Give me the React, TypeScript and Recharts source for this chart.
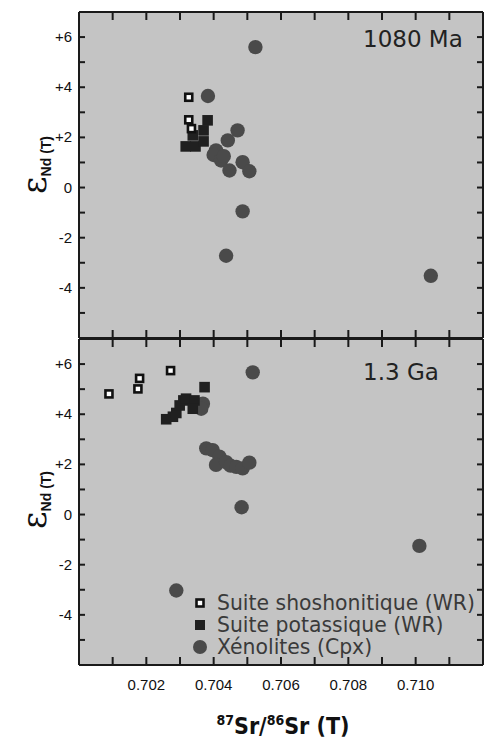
import { ScatterChart, Scatter, XAxis, YAxis } from 'recharts'

// x = 87Sr/86Sr (T), y = εNd (T)
const xTicks = [0.7, 0.701, 0.702, 0.703, 0.704, 0.705, 0.706, 0.707, 0.708, 0.709, 0.71, 0.711, 0.712]
const xLabelTicks = [0.702, 0.704, 0.706, 0.708, 0.71]
const yTicks = [-6, -5, -4, -3, -2, -1, 0, 1, 2, 3, 4, 5, 6, 7]
const yLabelTicks = [-4, -2, 0, 2, 4, 6]

// 1080 Ma
const shosho1080 = [
    { sr: 0.70326, nd: 3.6 },
    { sr: 0.70326, nd: 2.7 },
    { sr: 0.70334, nd: 2.35 },
]
const potass1080 = [
    { sr: 0.70382, nd: 2.68 },
    { sr: 0.70317, nd: 1.64 },
    { sr: 0.70346, nd: 1.64 },
    { sr: 0.7037, nd: 1.84 },
    { sr: 0.7037, nd: 2.28 },
    { sr: 0.70338, nd: 2.08 },
]
const xeno1080 = [
    { sr: 0.70524, nd: 5.6 },
    { sr: 0.70383, nd: 3.65 },
    { sr: 0.70471, nd: 2.28 },
    { sr: 0.70442, nd: 1.88 },
    { sr: 0.70407, nd: 1.48 },
    { sr: 0.704, nd: 1.3 },
    { sr: 0.70422, nd: 1.08 },
    { sr: 0.7043, nd: 1.25 },
    { sr: 0.70447, nd: 0.68 },
    { sr: 0.70486, nd: 1.01 },
    { sr: 0.70506, nd: 0.65 },
    { sr: 0.70486, nd: -0.95 },
    { sr: 0.70437, nd: -2.72 },
    { sr: 0.71045, nd: -3.52 },
]

// 1.3 Ga
const shosho13 = [
    { sr: 0.70089, nd: 4.81 },
    { sr: 0.70175, nd: 5.01 },
    { sr: 0.7018, nd: 5.43 },
    { sr: 0.70272, nd: 5.74 },
]
const potass13 = [
    { sr: 0.70373, nd: 5.08 },
    { sr: 0.70259, nd: 3.8 },
    { sr: 0.70279, nd: 3.9 },
    { sr: 0.70289, nd: 4.05 },
    { sr: 0.70299, nd: 4.35 },
    { sr: 0.7031, nd: 4.55 },
    { sr: 0.70318, nd: 4.62 },
    { sr: 0.70343, nd: 4.55 },
    { sr: 0.70338, nd: 4.22 },
]
const xeno13 = [
    { sr: 0.70516, nd: 5.67 },
    { sr: 0.70368, nd: 4.42 },
    { sr: 0.70363, nd: 4.22 },
    { sr: 0.70378, nd: 2.64 },
    { sr: 0.70397, nd: 2.57 },
    { sr: 0.70417, nd: 2.31 },
    { sr: 0.70407, nd: 1.98 },
    { sr: 0.70437, nd: 2.09 },
    { sr: 0.7045, nd: 1.95 },
    { sr: 0.70467, nd: 1.9 },
    { sr: 0.70486, nd: 1.84 },
    { sr: 0.70506, nd: 2.07 },
    { sr: 0.70483, nd: 0.29 },
    { sr: 0.71011, nd: -1.25 },
    { sr: 0.70289, nd: -3.03 },
]

const INK = '#1a1a1a'
const BG = '#c4c4c4'
const TICK_FONT = "'Liberation Sans', Arial, sans-serif"
const GEO_FONT = "'DejaVu Sans', sans-serif"
const X_TICK = 8
const Y_TICK = 6

// tick lines come from recharts (negative tickSize = pointing inward), this only writes the labels
function tickLabel(side: 'left' | 'bottom' | 'none') {
    return (props: any) => {
        const x = Number(props.x)
        const y = Number(props.y)
        const v = Number(props.payload.value)
        if (side === 'left' && yLabelTicks.includes(v)) {
            return (
                <text x={x - 7} y={y + 5} textAnchor="end" fontSize={15} fontFamily={TICK_FONT} fill="#111">
                    {v > 0 ? `+${v}` : `${v}`}
                </text>
            )
        }
        if (side === 'bottom' && xLabelTicks.some((t) => Math.abs(t - v) < 1e-9)) {
            return (
                <text x={x} y={y + 25} textAnchor="middle" fontSize={15} fontFamily={TICK_FONT} fill="#111">
                    {v.toFixed(3)}
                </text>
            )
        }
        return <g />
    }
}

const Circle = (p: any) => <circle cx={p.cx} cy={p.cy} r={7.2} fill="#4a4a4a" />
const FilledSq = (p: any) => <rect x={p.cx - 5.3} y={p.cy - 5.3} width={10.6} height={10.6} fill="#202020" />
const OpenSq = (p: any) => (
    <rect x={p.cx - 3.5} y={p.cy - 3.5} width={7} height={7} fill="#fff" stroke="#111" strokeWidth={2.6} />
)

const line2 = { stroke: INK, strokeWidth: 2 }

function Panel({ shosho, potass, xeno, labelTicks, height, top, bottomH }: any) {
    return (
        <ScatterChart width={485} height={height} margin={{ top, right: 0, bottom: 0, left: 0 }}>
            <XAxis
                xAxisId="b"
                type="number"
                dataKey="sr"
                domain={[0.7, 0.712]}
                ticks={xTicks}
                interval={0}
                height={bottomH}
                tickSize={-X_TICK}
                tickMargin={X_TICK}
                axisLine={line2}
                tickLine={line2}
                tick={tickLabel(labelTicks ? 'bottom' : 'none')}
            />
            <XAxis
                xAxisId="t"
                orientation="top"
                type="number"
                dataKey="sr"
                domain={[0.7, 0.712]}
                ticks={xTicks}
                interval={0}
                height={1}
                tickSize={-X_TICK}
                tickMargin={X_TICK}
                axisLine={line2}
                tickLine={line2}
                tick={tickLabel('none')}
            />
            <YAxis
                yAxisId="l"
                type="number"
                dataKey="nd"
                domain={[-6, 7]}
                ticks={yTicks}
                interval={0}
                width={79}
                tickSize={-Y_TICK}
                tickMargin={Y_TICK}
                axisLine={line2}
                tickLine={line2}
                tick={tickLabel('left')}
            />
            <YAxis
                yAxisId="r"
                orientation="right"
                type="number"
                dataKey="nd"
                domain={[-6, 7]}
                ticks={yTicks}
                interval={0}
                width={2}
                tickSize={-Y_TICK}
                tickMargin={Y_TICK}
                axisLine={line2}
                tickLine={line2}
                tick={tickLabel('none')}
            />
            <Scatter data={xeno} xAxisId="b" yAxisId="l" shape={Circle} isAnimationActive={false} />
            <Scatter data={potass} xAxisId="t" yAxisId="r" shape={FilledSq} isAnimationActive={false} />
            <Scatter data={shosho} xAxisId="b" yAxisId="l" shape={OpenSq} isAnimationActive={false} />
        </ScatterChart>
    )
}

function YTitle({ cx, cy }: { cx: number; cy: number }) {
    return (
        <text transform={`translate(${cx},${cy}) rotate(-90)`} textAnchor="middle" fill="#111">
            <tspan fontSize={34} fontFamily="'DejaVu Serif', serif">ε</tspan>
            <tspan fontSize={14} fontWeight="bold" fontFamily={TICK_FONT} dy={5}>Nd (T)</tspan>
        </text>
    )
}

export default function App() {
    return (
        <div style={{ position: 'absolute', left: 0, top: 0, width: 485, height: 738 }}>
            <div style={{ position: 'absolute', left: 79, top: 12, width: 404, height: 653, background: BG, zIndex: -1 }} />
            <div style={{ position: 'absolute', left: 0, top: 0, zIndex: 1 }}>
                <Panel shosho={shosho1080} potass={potass1080} xeno={xeno1080} labelTicks={false} height={339} top={11} bottomH={1} />
            </div>
            <div style={{ position: 'absolute', left: 0, top: 338, zIndex: 1 }}>
                <Panel shosho={shosho13} potass={potass13} xeno={xeno13} labelTicks={true} height={400} top={0} bottomH={73} />
            </div>
            <svg width={485} height={738} style={{ position: 'absolute', left: 0, top: 0, pointerEvents: 'none', zIndex: 2 }}>
                <YTitle cx={46} cy={165} />
                <YTitle cx={46} cy={500} />
                <text x={363} y={47} fontSize={23} fontFamily={GEO_FONT} fill="#222">1080 Ma</text>
                <text x={363} y={380} fontSize={23} fontFamily={GEO_FONT} fill="#222">1.3 Ga</text>
                <g fontSize={20.4} fontFamily={GEO_FONT} fill="#3a3a3a">
                    <rect x={196.5} y={599.5} width={7} height={7} fill="#fff" stroke="#111" strokeWidth={2.6} />
                    <text x={217} y={610}>Suite shoshonitique (WR)</text>
                    <rect x={195} y={620} width={10} height={10} fill="#202020" />
                    <text x={217} y={632}>Suite potassique (WR)</text>
                    <circle cx={200} cy={647} r={7} fill="#4a4a4a" />
                    <text x={217} y={654}>Xénolites (Cpx)</text>
                </g>
                <text x={283} y={734} textAnchor="middle" fontSize={23} fontWeight="bold" fill="#111"
                    fontFamily="'Liberation Sans Narrow', 'DejaVu Sans Condensed', sans-serif">
                    <tspan fontSize={14} dy={-9}>87</tspan>
                    <tspan dy={9}>Sr/</tspan>
                    <tspan fontSize={14} dy={-9}>86</tspan>
                    <tspan dy={9}>Sr (T)</tspan>
                </text>
            </svg>
        </div>
    )
}
